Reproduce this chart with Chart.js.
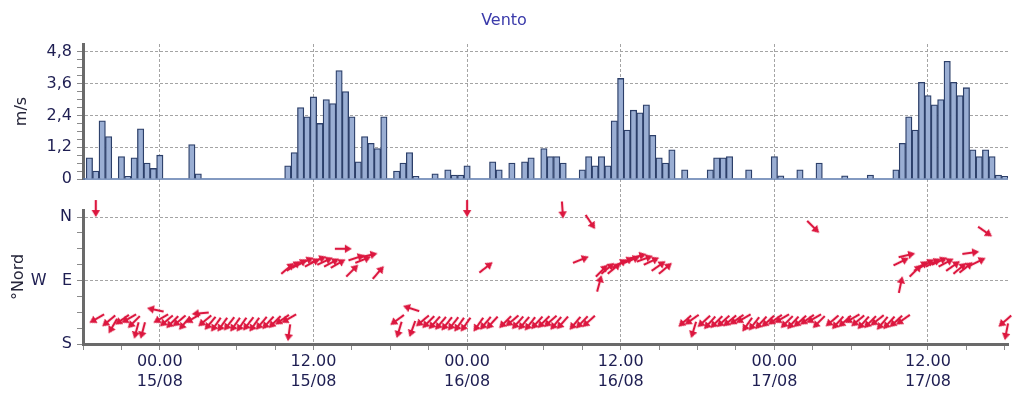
<!DOCTYPE html>
<html><head><meta charset="utf-8">
<script src="https://cdn.jsdelivr.net/npm/chart.js@4/dist/chart.umd.min.js"></script>
<style>html,body{margin:0;padding:0;background:#fff;overflow:hidden}canvas{display:block}</style>
</head><body>
<div style="width:1017px;height:399px;position:relative"><canvas id="c" width="1017" height="399"></canvas></div>
<script>
// time of each sample, hours since 00:00 15/08 (half-hourly)
const hours = [-5.5,-5,-4.5,-4,-3.5,-3,-2.5,-2,-1.5,-1,-0.5,0,0.5,1,1.5,2,2.5,3,3.5,4,4.5,5,5.5,6,6.5,7,7.5,8,8.5,9,9.5,10,10.5,11,11.5,12,12.5,13,13.5,14,14.5,15,15.5,16,16.5,17,17.5,18,18.5,19,19.5,20,20.5,21,21.5,22,22.5,23,23.5,24,24.5,25,25.5,26,26.5,27,27.5,28,28.5,29,29.5,30,30.5,31,31.5,32,32.5,33,33.5,34,34.5,35,35.5,36,36.5,37,37.5,38,38.5,39,39.5,40,40.5,41,41.5,42,42.5,43,43.5,44,44.5,45,45.5,46,46.5,47,47.5,48,48.5,49,49.5,50,50.5,51,51.5,52,52.5,53,53.5,54,54.5,55,55.5,56,56.5,57,57.5,58,58.5,59,59.5,60,60.5,61,61.5,62,62.5,63,63.5,64,64.5,65,65.5,66];
// wind speed m/s
const speeds = [0.8,0.3,2.2,1.6,0,0.85,0.1,0.8,1.9,0.6, 0.4,0.9,0,0,0,0,1.3,0.2,0,0, 0,0,0,0,0,0,0,0,0,0, 0,0.5,1.0,2.7,2.35,3.1,2.1,3.0,2.85,4.1, 3.3,2.35,0.65,1.6,1.35,1.15,2.35,0,0.3,0.6, 1.0,0.1,0,0,0.2,0,0.35,0.15,0.15,0.5, 0,0,0,0.65,0.35,0,0.6,0,0.65,0.8, 0,1.15,0.85,0.85,0.6,0,0,0.35,0.85,0.5, 0.85,0.5,2.2,3.8,1.85,2.6,2.5,2.8,1.65,0.8, 0.6,1.1,0,0.35,0,0,0,0.35,0.8,0.8, 0.85,0,0,0.35,0,0,0,0.85,0.12,0, 0,0.35,0,0,0.6,0,0,0,0.12,0, 0,0,0.15,0,0,0,0.35,1.35,2.35,1.85, 3.65,3.15,2.8,3.0,4.45,3.65,3.15,3.45,1.1,0.85, 1.1,0.85,0.15,0.1];
// wind direction (degrees on the °Nord scale)
const dirs = [300,0,310,330,305,300,315,345,345,258, 300,310,315,310,320,300,275,310,320,325, 325,322,325,325,322,325,320,318,315,305, 300,352,130,125,120,115,118,112,115,118, 120,90,135,108,112,103,139,306,343,252, 340,310,315,318,320,322,322,325,325,0, 325,320,318,128,315,310,318,320,322,318, 315,312,320,318,4,320,316,312,112,34, 165,135,130,130,120,115,112,105,110,115, 125,130,311,305,343,312,318,315,312,310, 305,300,325,322,318,312,305,300,315,318, 312,305,300,315,45,310,318,312,300,310, 318,315,308,320,318,312,305,168,116,103, 135,125,120,118,115,118,125,130,128,98, 116,55,311,349];
// axis ticks
const timeTicks = [-6,-3,0,3,6,9,12,15,18,21,24,27,30,33,36,39,42,45,48,51,54,57,60,63,66];
const dayLabels = ['15/08','16/08','17/08'];
const speedTicks = [0,0.3,0.6,0.9,1.2,1.5,1.8,2.1,2.4,2.7,3.0,3.3,3.6,3.9,4.2,4.5,4.8];
const speedLabelTicks = [0,1.2,2.4,3.6,4.8];
const dirTicks = [0,45,90,135,180,225,270,315,360];
const dirLabelValues = [0,180,360];
const dirLabels = ['N','W   E','S'];

const FONT = 'DejaVu Sans';
const GRID = '#a4a4a4';
const AXIS = '#6a6a6a';
const TXT = '#1e1e52';

function makeArrow(color){
  const len = 17, head = 7, hw = 4.2, s = 2*len + 6;
  const c = document.createElement('canvas'); c.width = s; c.height = s;
  const g = c.getContext('2d');
  const cx = s/2, cy = s/2;
  g.strokeStyle = color; g.fillStyle = color; g.lineWidth = 2.2; g.lineCap = 'butt';
  g.beginPath(); g.moveTo(cx, cy - len); g.lineTo(cx, cy - head + 1); g.stroke();
  g.beginPath(); g.moveTo(cx, cy); g.lineTo(cx - hw, cy - head); g.lineTo(cx + hw, cy - head); g.closePath(); g.fill();
  return c;
}
const arrowImg = makeArrow('#dc173f');

const near = (a,b)=>Math.abs(a-b)<1e-6;

const zeroLine = {
  id:'zeroLine',
  beforeDatasetsDraw(chart){
    const ys = chart.scales.yS, a = chart.chartArea, g = chart.ctx;
    const y = ys.getPixelForValue(0);
    g.save(); g.strokeStyle = '#5a78ac'; g.lineWidth = 1.5;
    g.beginPath(); g.moveTo(a.left, y); g.lineTo(a.right, y); g.stroke(); g.restore();
  }
};

new Chart(document.getElementById('c'), {
  type:'bar',
  data:{
    datasets:[
      {
        type:'bar', label:'m/s', xAxisID:'x', yAxisID:'yS',
        data: hours.map((h,i)=>({x:h, y:speeds[i]})),
        backgroundColor:'#9aaed3', borderColor:'#2c3f69', borderWidth:1.3,
        categoryPercentage:1, barPercentage:1, order:2
      },
      {
        type:'scatter', label:'dir', xAxisID:'x', yAxisID:'yD',
        data: hours.map((h,i)=>({x:h, y:dirs[i]})),
        pointStyle: arrowImg,
        pointRotation: ctx => -dirs[ctx.dataIndex],
        pointRadius: 4, showLine:false, clip:false, order:1
      }
    ]
  },
  plugins:[zeroLine],
  options:{
    responsive:false, devicePixelRatio:1, animation:false, events:[],
    layout:{padding:{left:0,right:9,top:0,bottom:0}},
    plugins:{
      legend:{display:false}, tooltip:{enabled:false},
      title:{display:true, text:'Vento', color:'#3a3aaa', font:{family:FONT,size:16,weight:'normal'}, padding:{top:11.5,bottom:13.3}}
    },
    scales:{
      x:{
        type:'linear', position:'bottom', min:-6, max:66.25, offset:false,
        afterBuildTicks: s => { s.ticks = timeTicks.map(v=>({value:v})); },
        afterFit: s => { s.height = 55; },
        ticks:{ autoSkip:false, maxRotation:0, padding:2, color:TXT, font:{family:FONT,size:16,lineHeight:1.25},
          callback: v => (v % 12 === 0 && v >= 0) ? [(v % 24 === 0 ? '00.00' : '12.00'), dayLabels[Math.floor(v/24)]] : '' },
        grid:{ offset:false, color: c => (c.tick && c.tick.value % 12 === 0 && c.tick.value >= 0 && c.tick.value < 66) ? GRID : 'rgba(0,0,0,0)',
          tickColor:'#8a8a8a', tickLength:6, lineWidth:1, drawTicks:true },
        border:{ display:true, color:AXIS, width:3, dash:[3,2] }
      },
      yS:{
        type:'linear', position:'left', stack:'p', stackWeight:135, weight:3, min:0, max:5.1,
        afterBuildTicks: s => { s.ticks = speedTicks.map(v=>({value:v})); },
        afterFit: s => { s.width = 83; },
        ticks:{ autoSkip:false, padding:5, color:TXT, font:{family:FONT,size:16},
          callback: v => speedLabelTicks.some(t=>near(t,v)) ? String(+v.toFixed(1)).replace('.',',') : '' },
        grid:{ color: c => (c.tick && c.tick.value > 0.1 && speedLabelTicks.some(t=>near(t,c.tick.value))) ? GRID : 'rgba(0,0,0,0)',
          tickColor:'#8a8a8a', tickLength:6 },
        border:{ display:true, color:AXIS, width:3, dash:[3,2] },
        title:{ display:true, text:'m/s', color:'#26263a', font:{family:FONT,size:16}, padding:{top:12,bottom:0} }
      },
      yGap:{
        type:'linear', position:'left', stack:'p', stackWeight:31, weight:2, min:0, max:1,
        afterFit: s => { s.width = 83; },
        ticks:{ display:false }, grid:{ display:false, drawTicks:false }, border:{ display:false }
      },
      yD:{
        type:'linear', position:'left', stack:'p', stackWeight:134, weight:1, min:-20, max:360, reverse:true,
        afterBuildTicks: s => { s.ticks = dirTicks.map(v=>({value:v})); },
        afterFit: s => { s.width = 83; },
        ticks:{ autoSkip:false, padding:5, color:TXT, font:{family:FONT,size:16},
          callback: v => { const i = dirLabelValues.indexOf(v); return i >= 0 ? dirLabels[i] : ''; } },
        grid:{ color: c => (c.tick && (c.tick.value === 0 || c.tick.value === 180)) ? GRID : 'rgba(0,0,0,0)',
          tickColor:'#8a8a8a', tickLength:6 },
        border:{ display:true, color:AXIS, width:3, dash:[3,2] },
        title:{ display:true, text:'°Nord', color:'#26263a', font:{family:FONT,size:16}, padding:{top:9,bottom:0} }
      }
    }
  }
});
</script>
</body></html>
